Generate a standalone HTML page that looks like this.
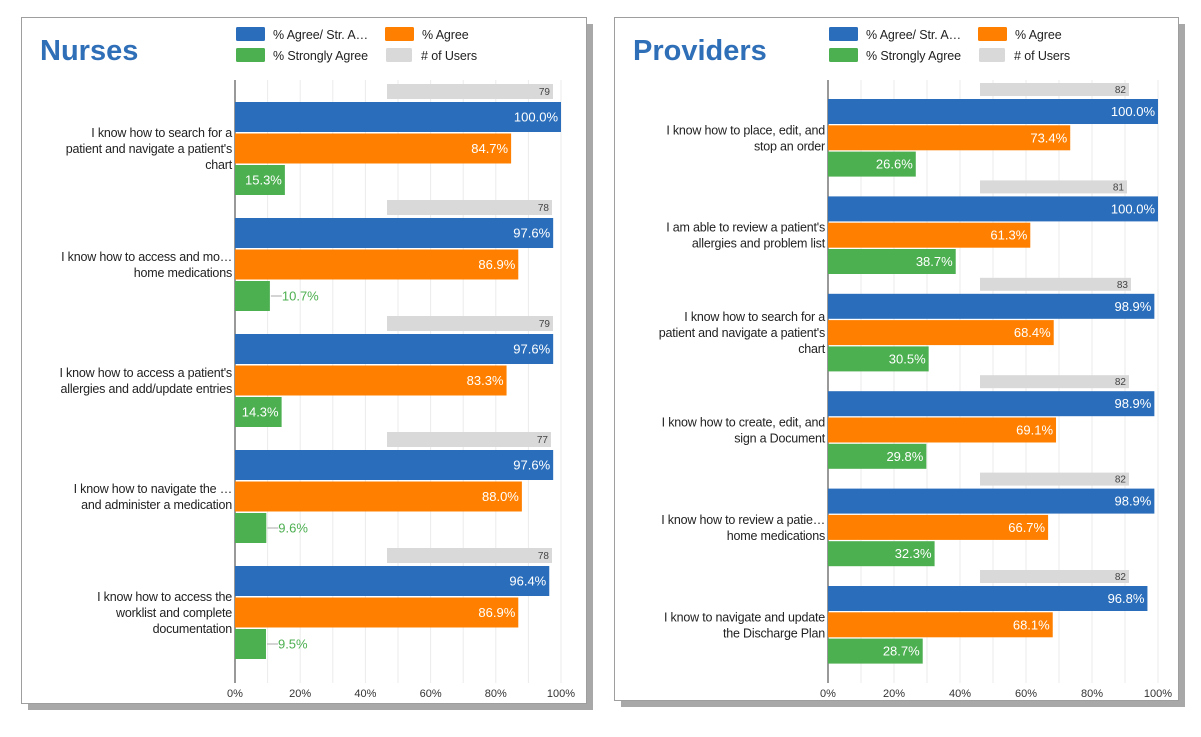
<!DOCTYPE html>
<html><head><meta charset="utf-8"><style>
body{margin:0;background:#fff;width:1201px;height:732px;overflow:hidden;font-family:"Liberation Sans",Arial,sans-serif}
svg text{font-family:"Liberation Sans",Arial,sans-serif}
</style></head><body>
<svg id="c" width="1201" height="732" xmlns="http://www.w3.org/2000/svg"></svg>
<script>
const nurseCats=[["I know how to search for a","patient and navigate a patient's","chart"],["I know how to access and mo…","home medications"],["I know how to access a patient's","allergies and add/update entries"],["I know how to navigate the …","and administer a medication"],["I know how to access the","worklist and complete","documentation"]];
const nurseBoth=[100.0,97.6,97.6,97.6,96.4];
const nurseAgree=[84.7,86.9,83.3,88.0,86.9];
const nurseStrong=[15.3,10.7,14.3,9.6,9.5];
const nurseUsers=[79,78,79,77,78];
const provCats=[["I know how to place, edit, and","stop an order"],["I am able to review a patient's","allergies and problem list"],["I know how to search for a","patient and navigate a patient's","chart"],["I know how to create, edit, and","sign a Document"],["I know how to review a patie…","home medications"],["I know to navigate and update","the Discharge Plan"]];
const provBoth=[100.0,100.0,98.9,98.9,98.9,96.8];
const provAgree=[73.4,61.3,68.4,69.1,66.7,68.1];
const provStrong=[26.6,38.7,30.5,29.8,32.3,28.7];
const provUsers=[82,81,83,82,82,82];
const xTicks=[0,20,40,60,80,100];
const xTickLabels=["0%","20%","40%","60%","80%","100%"];

const NS="http://www.w3.org/2000/svg";
const svg=document.getElementById('c');
function mk(tag,attrs,parent){const e=document.createElementNS(NS,tag);for(const k in attrs)e.setAttribute(k,attrs[k]);(parent||svg).appendChild(e);return e;}
const C={blue:'#2a6ebb',orange:'#ff8000',green:'#4caf50',gray:'#d9d9d9'};

function panel(o){
  const g=mk('g',{});
  
  
  const sh=mk('rect',{x:o.px+7,y:o.py+7,width:o.pw,height:o.ph,fill:'#a8a8a8'},g);
  
  
  const bg=mk('rect',{x:o.px+0.5,y:o.py+0.5,width:o.pw,height:o.ph,fill:'#fff',stroke:'#9e9e9e'},g);
  
  
  const t=mk('text',{x:o.px+19,y:o.py+43,'font-size':29,'font-weight':'bold',fill:'#2f6fb8'},g);t.textContent=o.title;
  
  
  const leg=[['% Agree/ Str. A…',C.blue,0,0],['% Agree',C.orange,149,0],['% Strongly Agree',C.green,0,21],['# of Users',C.gray,150,21]];
  leg.forEach(l=>{
    const lg=mk('g',{},g);
    
    
    mk('rect',{x:o.lx+l[2],y:o.py+10+l[3],width:l[1]==C.gray?26:29,height:14,rx:1.5,fill:l[1]},lg);
    const tx=mk('text',{x:o.lx+l[2]+(l[1]==C.gray?35:37),y:o.py+22+l[3],'font-size':12.5,fill:'#222','letter-spacing':'-0.1'},lg);tx.textContent=l[0];
  });
  const x=v=>o.x0+(o.x1-o.x0)*v/100;
  const ux=v=>o.uEnd-(o.uRef-v)*o.uPx;
  for(let i=10;i<=100;i+=10){const gl=mk('line',{x1:x(i),x2:x(i),y1:o.top,y2:o.bottom,stroke:'#ebebeb'},g);
    }
  const ax=mk('line',{x1:o.x0,x2:o.x0,y1:o.top,y2:o.bottom,stroke:'#333'},g);
  
  xTicks.forEach((v,i)=>{const tl=mk('text',{x:x(v),y:o.bottom+14,'font-size':11,fill:'#333','text-anchor':'middle'},g);tl.textContent=xTickLabels[i];
    });
  o.cats.forEach((cat,i)=>{
    const y0=o.first+i*o.pitch;
    const gr=mk('g',{},g);
    
    
    const ub=mk('rect',{x:o.uStart,y:y0,width:ux(o.users[i])-o.uStart,height:o.gh,fill:C.gray},gr);
    
    const ut=mk('text',{x:ux(o.users[i])-3,y:y0+o.gh/2+3.5,'font-size':10,fill:'#444','text-anchor':'end'},gr);ut.textContent=o.users[i];
    
    const series=[[o.both[i],C.blue,'agree-or-strong-bar'],[o.agree[i],C.orange,'agree-bar'],[o.strong[i],C.green,'strongly-agree-bar']];
    series.forEach((s,k)=>{
      const by=y0+o.gh+o.gap+k*(o.bh+o.gap2);
      const w=x(s[0])-o.x0;
      const b=mk('rect',{x:o.x0,y:by,width:w,height:o.bh,fill:s[1]},gr);
      
      
      const lbl=s[0].toFixed(1)+'%';
      if(w>40){
        const vt=mk('text',{x:x(s[0])-3,y:by+o.bh/2+4.5,'font-size':13,fill:'#fff','text-anchor':'end'},gr);vt.textContent=lbl;
        
      }else{
        const ln=mk('line',{x1:x(s[0])+1,x2:x(s[0])+12,y1:by+o.bh/2,y2:by+o.bh/2,stroke:'#aaa'},gr);
        
        const vt=mk('text',{x:x(s[0])+12,y:by+o.bh/2+4.5,'font-size':13,fill:s[1]},gr);vt.textContent=lbl;
        
      }
    });
    const cy=y0+o.gh+o.gap+o.bh+o.gap2+o.bh/2;
    const n=cat.length, lh=16;
    const ct=mk('text',{x:o.x0-3,'font-size':12.5,fill:'#222','text-anchor':'end','letter-spacing':'-0.2'},gr);
    
    
    cat.forEach((line,j)=>{const ts=mk('tspan',{x:o.x0-3,y:cy+4.5+(j-(n-1)/2)*lh},ct);ts.textContent=line;});
  });
}
panel({name:'nurses',title:'Nurses',px:21,py:17,pw:565,ph:686,lx:236,x0:235,x1:561,top:80,bottom:683,first:84,pitch:116,gh:15,gap:3,bh:30,gap2:1.5,
  cats:nurseCats,both:nurseBoth,agree:nurseAgree,strong:nurseStrong,users:nurseUsers,uStart:387,uEnd:553,uRef:79,uPx:1});
panel({name:'providers',title:'Providers',px:614,py:17,pw:564,ph:683,lx:829,x0:828,x1:1158,top:80,bottom:683,first:83,pitch:97.4,gh:13,gap:3,bh:25,gap2:1.3,
  cats:provCats,both:provBoth,agree:provAgree,strong:provStrong,users:provUsers,uStart:980,uEnd:1129,uRef:82,uPx:2});
</script>
</body></html>
